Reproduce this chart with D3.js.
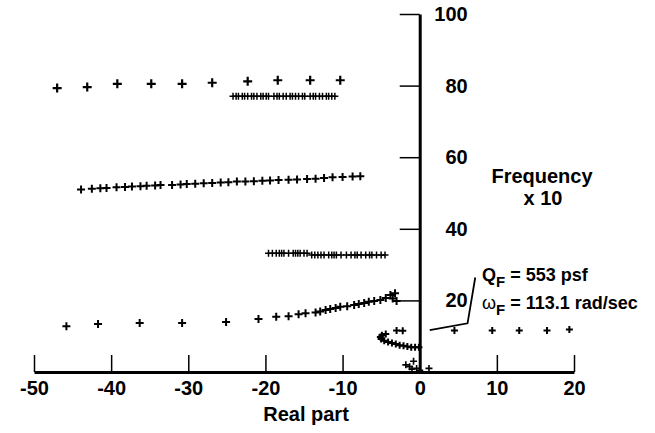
<!DOCTYPE html>
<html>
<head>
<meta charset="utf-8">
<script src="https://cdn.jsdelivr.net/npm/d3@7"></script>
<style>
body { margin: 0; background: #fff; }
text { font-family: "Liberation Sans", Arial, sans-serif; font-weight: bold; fill: #000; }
</style>
</head>
<body>
<svg></svg>
<script>
// root locus branches, [real, frequency]
var upperBranch = [[-47.0,79.3],[-43.1,79.6],[-39.2,80.5],[-34.8,80.5],[-30.8,80.5],[-26.9,80.8],[-22.3,81.2],[-18.4,81.5],[-14.2,81.5],[-10.3,81.5]];
var upperDense = [-24.2,-23.8,-23.5,-23.0,-22.7,-22.3,-21.8,-21.5,-21.1,-20.6,-20.3,-19.9,-19.6,
  -18.9,-18.5,-18.2,-17.7,-17.3,-16.8,-16.5,-16.1,-15.7,-15.2,-14.9,
  -14.2,-13.8,-13.5,-13.0,-12.6,-12.1,-11.8,-11.4,-11.0];
var upperDenseY = 77.0;
var midBranch = [[-43.9,51.0],[-42.5,51.2],[-41.4,51.3],[-40.6,51.4],[-39.3,51.6],[-38.2,51.7],[-37.3,51.8],[-36.2,51.9],
  [-35.4,52.0],[-34.3,52.1],[-33.6,52.2],[-32.1,52.2],[-31.0,52.4],[-30.2,52.5],[-29.1,52.6],[-28.0,52.7],[-26.9,52.8],
  [-25.8,52.9],[-24.8,53.0],[-23.7,53.2],[-22.6,53.2],[-21.5,53.3],[-20.4,53.4],[-19.4,53.5],[-18.3,53.6],[-17.0,53.7],
  [-15.9,53.8],[-14.6,53.9],[-13.5,54.0],[-12.4,54.2],[-11.3,54.4],[-10.0,54.5],[-8.7,54.6],[-7.7,54.7]];
var lowDenseA = [-19.6,-19.1,-18.6,-18.2,-17.9,-17.6,-17.0,-16.4,-16.1,-15.8,-15.5,-15.0,-14.6];
var lowDenseB = [-14.0,-13.6,-13.2,-12.8,-12.4,-11.8,-11.4,-11.1,-10.8,-10.2,-9.5,-8.9,-8.4,-8.1,-7.6,-7.0,-6.5,-6.2,-5.6,-5.0,-4.5];
var lowDenseAY = 33.2, lowDenseBY = 32.7;
var lowBranch = [[-45.8,12.8],[-41.7,13.4],[-36.3,13.7],[-30.8,13.7],[-25.1,14.0],[-20.9,14.8],[-18.6,15.4],[-17.0,15.6],
  [-15.7,16.1],[-14.8,16.4],[-13.5,16.6],[-12.9,16.9],[-12.2,17.3],[-11.6,17.6],[-10.9,17.9],[-10.3,18.2],[-9.4,18.4],
  [-8.5,18.7],[-7.9,19.0],[-7.2,19.3],[-6.6,19.6],[-5.9,19.8],[-5.1,20.1],[-4.4,20.7],[-3.8,21.5],[-3.5,20.5],[-3.2,22.0],[-3.0,19.8]];
var rightBranch = [[4.5,11.6],[9.4,11.6],[12.9,11.6],[16.5,11.6],[19.4,11.9]];
var curlBranch = [[-3.0,11.6],[-2.2,11.5],[-4.4,10.6],[-4.9,10.3],[-5.1,9.8],[-5.0,9.2],[-4.6,8.7],[-4.1,8.4],[-3.6,8.1],
  [-3.1,7.8],[-2.6,7.5],[-2.1,7.3],[-1.6,7.1],[-1.1,6.9],[-0.6,6.9],[-0.1,6.9]];
var originCluster = [[-1.8,2.0],[-1.3,1.5],[-0.8,3.0],[-0.4,1.0],[0,0.5],[-1.0,0.8],[1.2,1.0]];
var xTicks = [-50,-40,-30,-20,-10,0,10,20];
var yTicks = [20,40,60,80,100];
var leader = [[1.3,11.7],[6.2,13.6],[7.2,26.4]];

var w = 655, h = 433;
var svg = d3.select('svg').attr('width', w).attr('height', h);

var x = d3.scaleLinear().domain([-50, 20]).range([34, 574]);
var y = d3.scaleLinear().domain([0, 100]).range([372, 14]);

// x axis, plain hyphen for negatives like the original
var xg = svg.append('g')
    .attr('transform', 'translate(0,' + y(0) + ')')
    .call(d3.axisBottom(x).tickValues(xTicks).tickFormat(function(d){ return String(d); })
      .tickSizeInner(-17).tickSizeOuter(0).tickPadding(20));
xg.select('.domain').attr('stroke-width', 3);
xg.selectAll('.tick line').attr('stroke-width', 1.5);
xg.selectAll('.tick text').attr('font-size', 20).attr('font-family', null).attr('dy', '0.15em');

// y axis
var yg = svg.append('g')
    .attr('transform', 'translate(' + x(0) + ',0)')
    .call(d3.axisRight(y).tickValues(yTicks).tickSizeInner(-20).tickSizeOuter(0));
yg.select('.domain').attr('stroke-width', 3);
yg.selectAll('.tick line').attr('stroke-width', 1.5);
yg.selectAll('.tick text').attr('font-size', 20).attr('font-family', null)
    .attr('x', 48).attr('text-anchor', 'end');

svg.append('text').attr('x', 306).attr('y', 421).attr('text-anchor', 'middle').attr('font-size', 20).text('Real part');
svg.append('text').attr('x', 542).attr('y', 183).attr('text-anchor', 'middle').attr('font-size', 20).text('Frequency');
svg.append('text').attr('x', 543).attr('y', 205).attr('text-anchor', 'middle').attr('font-size', 20).text('x 10');

var q = svg.append('text').attr('x', 482).attr('y', 281).attr('font-size', 18);
q.append('tspan').text('Q');
q.append('tspan').attr('font-size', 15).attr('dy', 6).text('F');
q.append('tspan').attr('dy', -6).text(' = 553 psf');
var om = svg.append('text').attr('x', 482).attr('y', 309).attr('font-size', 18);
om.append('tspan').attr('font-weight', 'normal').text('\u03c9');
om.append('tspan').attr('font-size', 15).attr('dy', 6).text('F');
om.append('tspan').attr('dy', -6).text(' = 113.1 rad/sec');

svg.append('path')
    .attr('d', d3.line().x(function(d){ return x(d[0]); }).y(function(d){ return y(d[1]); })(leader))
    .attr('fill', 'none').attr('stroke', '#000').attr('stroke-width', 1.8);

function plus(s) {
  return 'M' + (-s) + ',0H' + s + 'M0,' + (-s) + 'V' + s;
}
function marks(data, s, sw) {
  svg.append('g').selectAll('path')
    .data(data)
    .enter()
    .append('path')
    .attr('transform', function(d){ return 'translate(' + x(d[0]) + ',' + y(d[1]) + ')'; })
    .attr('d', plus(s))
    .attr('stroke', '#000')
    .attr('stroke-width', sw)
    .attr('fill', 'none');
}
function withY(xs, v) { return xs.map(function(d){ return [d, v]; }); }

marks(upperBranch, 4.5, 2.2);
marks(midBranch, 4, 2);
marks(lowBranch, 4, 2);
marks(rightBranch, 3.5, 2);
marks(curlBranch, 3.5, 2);
marks(originCluster, 3.5, 1.6);
marks(withY(upperDense, upperDenseY), 3.5, 1.5);
marks(withY(lowDenseA, lowDenseAY), 3.5, 1.5);
marks(withY(lowDenseB, lowDenseBY), 3.5, 1.5);
</script>
</body>
</html>
